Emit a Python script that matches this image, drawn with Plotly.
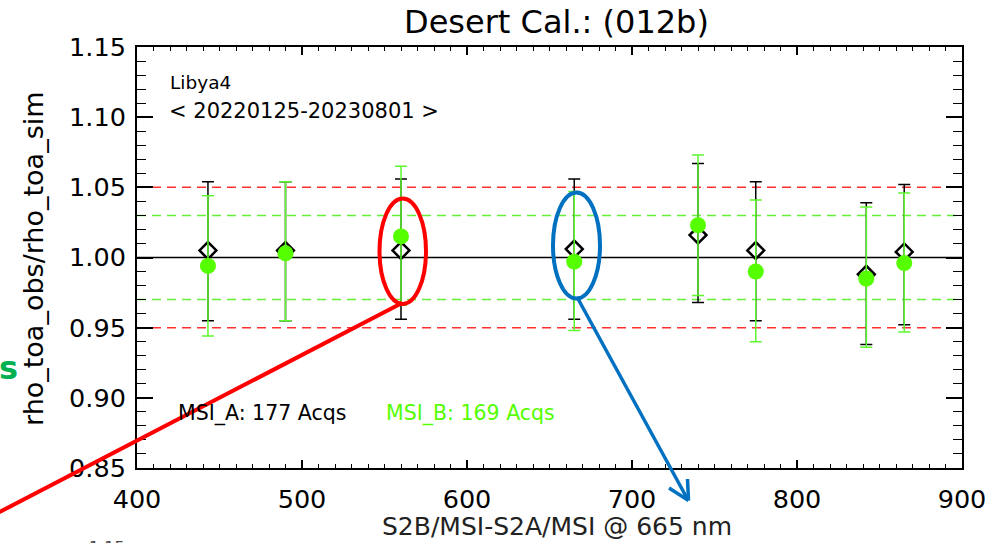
import plotly.graph_objects as go

# ---------------- data ----------------
bands = [443, 490, 560, 665, 740, 775, 842, 865]

msi_a_ratio = [1.005, 1.005, 1.005, 1.006, 1.016, 1.005, 0.988, 1.004]
msi_a_hi = [1.054, 1.054, 1.056, 1.056, 1.067, 1.054, 1.039, 1.052]
msi_a_lo = [0.955, 0.955, 0.956, 0.956, 0.968, 0.955, 0.938, 0.952]

msi_b_ratio = [0.994, 1.003, 1.015, 0.997, 1.023, 0.990, 0.985, 0.996]
msi_b_hi = [1.044, 1.054, 1.065, 1.047, 1.073, 1.041, 1.036, 1.046]
msi_b_lo = [0.944, 0.955, 0.966, 0.948, 0.973, 0.940, 0.936, 0.947]

ref_line = 1.00
red_limits = [0.95, 1.05]
green_limits = [0.97, 1.03]

x_ticks = [400, 500, 600, 700, 800, 900]
y_ticks = [0.85, 0.90, 0.95, 1.00, 1.05, 1.10, 1.15]

title_text = "Desert Cal.: (012b)"
site_text = "Libya4"
period_text = "< 20220125-20230801 >"
acq_a_text = "MSI_A: 177 Acqs"
acq_b_text = "MSI_B: 169 Acqs"
x_title = "S2B/MSI-S2A/MSI @ 665 nm"
y_title = "rho_toa_obs/rho_toa_sim"

# ---------------- geometry helpers ----------------
W, H = 990, 543
L, R, T, B = 137, 28, 47, 75
PW, PH = W - L - R, H - T - B


def px(x):
    return (x - L) / PW


def py(y):
    return (H - B - y) / PH


FONT = "DejaVu Sans"
GREEN = "#55FF00"
GREEN_BAR = "#5EF82E"

fig = go.Figure()

fig.add_trace(go.Scatter(
    x=bands, y=msi_a_ratio, mode="markers", name="MSI_A",
    marker=dict(symbol="diamond-open", size=13, color="black",
                line=dict(width=2.5, color="black")),
    error_y=dict(type="data", symmetric=False,
                 array=[h - v for h, v in zip(msi_a_hi, msi_a_ratio)],
                 arrayminus=[v - l for l, v in zip(msi_a_lo, msi_a_ratio)],
                 color="black", thickness=1.5, width=6),
))
fig.add_trace(go.Scatter(
    x=bands, y=msi_b_ratio, mode="markers", name="MSI_B",
    marker=dict(symbol="circle", size=16, color=GREEN, line=dict(width=0)),
    error_y=dict(type="data", symmetric=False,
                 array=[h - v for h, v in zip(msi_b_hi, msi_b_ratio)],
                 arrayminus=[v - l for l, v in zip(msi_b_lo, msi_b_ratio)],
                 color=GREEN_BAR, thickness=1.5, width=6),
))

shapes = []
shapes.append(dict(type="line", xref="x", yref="y", x0=400, x1=900, y0=ref_line, y1=ref_line,
                   line=dict(color="black", width=1.5), layer="below"))
for v in red_limits:
    shapes.append(dict(type="line", xref="x", yref="y", x0=400, x1=900, y0=v, y1=v,
                       line=dict(color="#FF3030", width=1.5, dash="9px,6px"), layer="below"))
for v in green_limits:
    shapes.append(dict(type="line", xref="x", yref="y", x0=400, x1=900, y0=v, y1=v,
                       line=dict(color="#66F03A", width=1.5, dash="9px,6px"), layer="below"))

# slide overlays: ellipses, line and arrow
shapes.append(dict(type="circle", xref="paper", yref="paper",
                   x0=px(379.5), x1=px(426), y0=py(304), y1=py(198.5),
                   line=dict(color="#FF0000", width=4)))
shapes.append(dict(type="circle", xref="paper", yref="paper",
                   x0=px(553), x1=px(600), y0=py(298.5), y1=py(192.5),
                   line=dict(color="#0070C0", width=4)))
shapes.append(dict(type="line", xref="paper", yref="paper",
                   x0=px(402), y0=py(303), x1=px(-10), y1=py(517),
                   line=dict(color="#FF0000", width=4)))
shapes.append(dict(type="line", xref="paper", yref="paper",
                   x0=px(577), y0=py(297), x1=px(688), y1=py(500),
                   line=dict(color="#0070C0", width=3.5)))
shapes.append(dict(type="line", xref="paper", yref="paper",
                   x0=px(669), y0=py(488), x1=px(688.5), y1=py(500.5),
                   line=dict(color="#0070C0", width=3.5)))
shapes.append(dict(type="line", xref="paper", yref="paper",
                   x0=px(687.5), y0=py(479), x1=px(688.5), y1=py(500.5),
                   line=dict(color="#0070C0", width=3.5)))

annotations = [
    dict(text=title_text, x=px(556), y=py(22), xref="paper", yref="paper",
         showarrow=False, xanchor="center", yanchor="middle",
         font=dict(family=FONT, size=32, color="black")),
    dict(text=site_text, x=px(168), y=py(83), xref="paper", yref="paper",
         showarrow=False, xanchor="left", yanchor="middle",
         font=dict(family=FONT, size=18.5, color="black")),
    dict(text=period_text, x=px(167), y=py(111), xref="paper", yref="paper",
         showarrow=False, xanchor="left", yanchor="middle",
         font=dict(family=FONT, size=21, color="black")),
    dict(text=acq_a_text, x=px(176), y=py(413), xref="paper", yref="paper",
         showarrow=False, xanchor="left", yanchor="middle",
         font=dict(family=FONT, size=20.5, color="black")),
    dict(text=acq_b_text, x=px(384), y=py(413), xref="paper", yref="paper",
         showarrow=False, xanchor="left", yanchor="middle",
         font=dict(family=FONT, size=20.5, color=GREEN)),
    dict(text=x_title, x=px(557), y=py(526), xref="paper", yref="paper",
         showarrow=False, xanchor="center", yanchor="middle",
         font=dict(family=FONT, size=25, color="#222222")),
    dict(text=y_title, x=px(33), y=py(259), xref="paper", yref="paper",
         showarrow=False, xanchor="center", yanchor="middle", textangle=-90,
         font=dict(family=FONT, size=27, color="black")),
    dict(text="<b>s</b>", x=px(8), y=py(368), xref="paper", yref="paper",
         showarrow=False, xanchor="center", yanchor="middle",
         font=dict(family=FONT, size=32, color="#00B050")),
    dict(text="1.15", x=px(107), y=py(536), xref="paper", yref="paper",
         showarrow=False, xanchor="center", yanchor="top",
         font=dict(family=FONT, size=16, color="#444444")),
]

fig.update_layout(
    width=W, height=H,
    autosize=False,
    margin=dict(l=L, r=R, t=T, b=B, pad=0, autoexpand=False),
    paper_bgcolor="white", plot_bgcolor="white",
    showlegend=False,
    shapes=shapes,
    annotations=annotations,
    xaxis=dict(range=[400, 900], tickvals=x_ticks, ticktext=[str(v) for v in x_ticks],
               ticks="inside", ticklen=8, tickwidth=1.5, tickcolor="black",
               showline=True, linecolor="black", linewidth=2, mirror="ticks",
               showgrid=False, zeroline=False, ticklabelstandoff=7, automargin=False,
               tickfont=dict(family=FONT, size=25.5, color="black"),
               minor=dict(dtick=10, ticks="inside", ticklen=4, tickwidth=1.2,
                          tickcolor="black", showgrid=False)),
    yaxis=dict(range=[0.85, 1.15], tickvals=y_ticks, ticktext=[f"{v:.2f}" for v in y_ticks],
               ticks="inside", ticklen=16, tickwidth=1.5, tickcolor="black",
               showline=True, linecolor="black", linewidth=2, mirror="ticks",
               showgrid=False, zeroline=False, ticklabelstandoff=4, automargin=False,
               tickfont=dict(family=FONT, size=25.5, color="black"),
               minor=dict(dtick=0.01, ticks="inside", ticklen=9, tickwidth=1.2,
                          tickcolor="black", showgrid=False)),
)

fig.write_html("out.html")
